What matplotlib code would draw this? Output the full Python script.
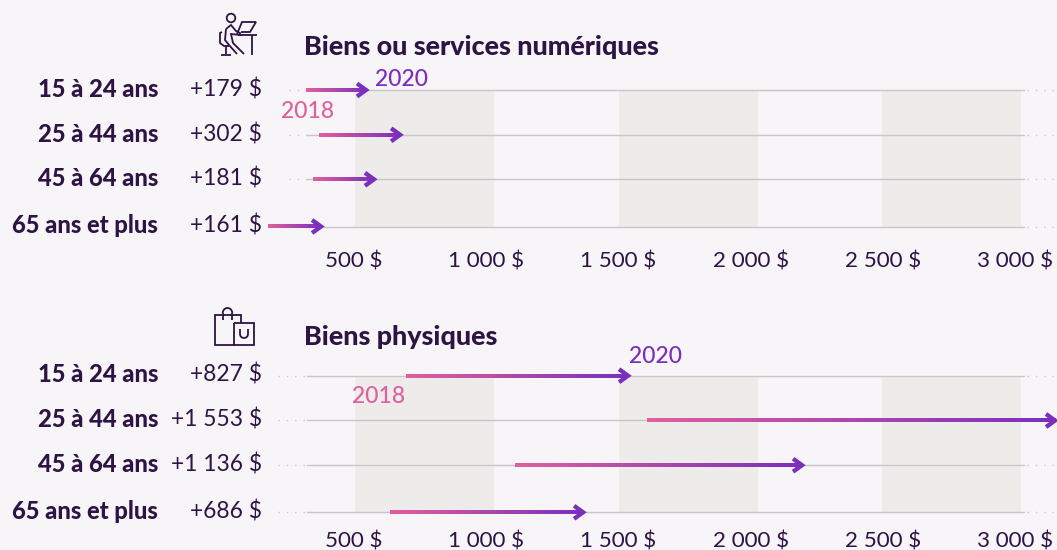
# -*- encoding:utf-8 -*-
import matplotlib
matplotlib.use("Agg")
import matplotlib.pyplot as plt
import numpy as np
from matplotlib.colors import LinearSegmentedColormap
from matplotlib.patches import Circle, Arc

ages = ["15 à 24 ans", "25 à 44 ans", "45 à 64 ans", "65 ans et plus"]
ticks = [500, 1000, 1500, 2000, 2500, 3000]
tick_labels = ["500 $", "1 000 $", "1 500 $", "2 000 $", "2 500 $", "3 000 $"]
bands = [(504, 1030), (1502, 2028), (2497, 3023)]

num_title = "Biens ou services numériques"
num_deltas = ["+179 $", "+302 $", "+181 $", "+161 $"]
num_2018 = [318, 368, 345, 175]
num_2020 = [553, 682, 583, 383]

phy_title = "Biens physiques"
phy_deltas = ["+827 $", "+1 553 $", "+1 136 $", "+686 $"]
phy_2018 = [697, 1608, 1109, 636]
phy_2020 = [1544, 3159, 2202, 1374]

BG = "#f7f5f7"
BAND = "#eeebeb"
DARK = "#2e1445"
PINK = "#e0609c"
PURPLE = "#7a2fbd"
GRID = "#c9c6c8"

W, H = 1057, 550
PX = 0.2644  # pixels per dollar
grad = LinearSegmentedColormap.from_list("g", [PINK, PURPLE])
ramp = np.linspace(0, 1, 256).reshape(1, -1)

plt.rcParams["font.family"] = "Lato"
fig = plt.figure(figsize=(W / 100, H / 100), dpi=100, facecolor=BG)


def px2x(px):
    return 500 + (px - 354) / PX


def panel(top, bottom, rows, title, title_y, deltas, y2018, y2020, dot_left, tick_pad):
    ax = fig.add_axes([0, 1 - bottom / H, 1, (bottom - top) / H])
    ax.set_xlim(px2x(0), px2x(W))
    ax.set_ylim(bottom, top)
    ax.set_autoscale_on(False)
    ax.patch.set_alpha(0)
    for s in ax.spines.values():
        s.set_visible(False)
    ax.set_yticks([])
    ax.set_xticks(ticks)
    ax.set_xticklabels(tick_labels, fontsize=16.1, color=DARK)
    ax.tick_params(axis="x", length=0, pad=tick_pad)

    for a, b in bands:
        ax.axvspan(a, b, ymin=0, ymax=(bottom - rows[0]) / (bottom - top), color=BAND, lw=0, zorder=1)

    for i, y in enumerate(rows):
        ax.plot([px2x(307), px2x(1024)], [y, y], color=GRID, lw=1.0, zorder=2, clip_on=False)
        ax.plot([px2x(dot_left), px2x(307)], [y, y], color=GRID, lw=1.0, ls=(0, (1, 5)), zorder=2, clip_on=False)
        ax.plot([px2x(1027), px2x(W)], [y, y], color=GRID, lw=1.0, ls=(0, (1, 5)), zorder=2, clip_on=False)
        ax.text(px2x(158), y - 0.8, ages[i], ha="right", va="center", fontsize=17.1, fontweight="black", color=DARK)
        ax.text(px2x(262), y - 0.8, deltas[i], ha="right", va="center", fontsize=16.4, color=DARK)

        # arrow : gradient shaft + chevron head
        tip = y2020[i]
        ax.imshow(ramp, cmap=grad, aspect="auto", interpolation="bilinear", zorder=3, clip_on=False,
                  extent=[y2018[i], tip - 2 / PX, y + 2, y - 2])
        ax.plot([tip - 11 / PX, tip - 2 / PX, tip - 11 / PX], [y - 6.5, y, y + 6.5], color=PURPLE, lw=3.1,
                zorder=4, solid_joinstyle="miter", solid_capstyle="butt", clip_on=False)

    ax.text(px2x(304.5), title_y, title, ha="left", va="center", fontsize=19.4, fontweight="black", color=DARK)
    return ax


ax1 = panel(0, 226.5, [90, 134.8, 179.3, 226.5], num_title, 47, num_deltas, num_2018, num_2020, 289, 18)
ax2 = panel(296, 512.3, [375.7, 420.5, 465.2, 512.3], phy_title, 337, phy_deltas, phy_2018, phy_2020, 278, 14)

ax1.text(px2x(401), 79.5, "2020", ha="center", va="center", fontsize=16.5, color=PURPLE, fontweight="medium")
ax1.text(px2x(308), 111.5, "2018", ha="center", va="center", fontsize=16.5, color=PINK, fontweight="medium")
ax2.text(px2x(655), 356.5, "2020", ha="center", va="center", fontsize=16.5, color=PURPLE, fontweight="medium")
ax2.text(px2x(379), 397, "2018", ha="center", va="center", fontsize=16.5, color=PINK, fontweight="medium")

# icons, in pixel coordinates on an overlay
ov = fig.add_axes([0, 0, 1, 1])
ov.set_xlim(0, W)
ov.set_ylim(H, 0)
ov.axis("off")
ov.patch.set_alpha(0)


def stroke(pts):
    xs, ys = zip(*pts)
    ov.plot(xs, ys, color=DARK, lw=1.3, solid_capstyle="butt", solid_joinstyle="miter")


# person at a desk
ov.add_patch(Circle((231, 18), 4.3, fill=False, ec=DARK, lw=1.3))
stroke([(226, 29), (231, 25), (236, 31), (240, 33), (240, 35), (231, 34), (233, 43), (244, 54)])
stroke([(226, 29), (225, 40), (229, 45), (237, 54)])
stroke([(222, 32), (220, 33), (220, 43), (224, 46), (229, 46)])
stroke([(226, 46), (226, 54)])
stroke([(221, 54.5), (231, 54.5)])
stroke([(237, 34), (242, 22), (256, 22), (250, 32), (241, 32)])
stroke([(238, 35), (257, 35)])
stroke([(252, 35), (252, 55)])

# shopping bags
stroke([(234, 345), (215, 345), (215, 315), (240.5, 315), (240.5, 323)])
stroke([(223, 320), (223, 313)])
stroke([(232, 320), (232, 313)])
ov.add_patch(Arc((227.5, 313), 9.5, 10, theta1=180, theta2=360, ec=DARK, lw=1.3))
stroke([(234, 323), (254, 323), (254, 345), (234, 345), (234, 323)])
stroke([(240, 329), (240, 334)])
stroke([(248, 329), (248, 334)])
ov.add_patch(Arc((244, 334), 8, 8, theta1=0, theta2=180, ec=DARK, lw=1.3))

fig.savefig("out.png", dpi=100, facecolor=BG)
